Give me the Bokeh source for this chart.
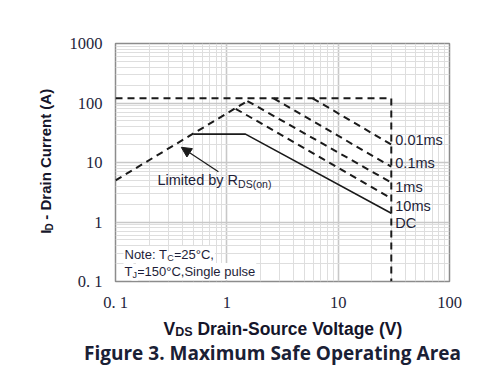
import math
from bokeh.plotting import figure
from bokeh.layouts import row, column
from bokeh.models import FixedTicker, Label, Arrow, NormalHead, Range1d
from bokeh.core.properties import value
from bokeh.embed import file_html
from bokeh.resources import INLINE

# ---------------- data ----------------
x_ticks = [0.1, 1, 10, 100]
x_tick_labels = ["0. 1", "1", "10", "100"]
y_ticks = [0.1, 1, 10, 100, 1000]
y_tick_labels = ["0. 1", "1", "10", "100", "1000"]

# R_DS(on) limit line
rds_v = [0.1, 1.53]
rds_i = [5.0, 108.0]

# package current limit + max V_DS
limit_v = [0.1, 30, 30]
limit_i = [120, 120, 0.1]

# pulse curves (start, end)
pulse_names = ["0.01ms", "0.1ms", "1ms", "10ms"]
pulse_v = [[5.9, 30], [2.63, 30], [1.53, 30], [1.2, 30]]
pulse_i = [[120, 20], [120, 8.5], [108, 4.6], [80, 2.5]]

# DC curve
dc_v = [0.5, 1.47, 30]
dc_i = [30, 30, 1.4]

curve_labels = ["0.01ms", "0.1ms", "1ms", "10ms", "DC"]
curve_label_i = [24, 9.9, 3.9, 1.89, 0.98]

# ---------------- layout geometry ----------------
LEFT_W = 60
MAIN_W, MAIN_H = 432, 314
BOT_H = 53
FL, FB = 115, 282  # page coords of frame left / bottom

p = figure(width=MAIN_W, height=MAIN_H, x_axis_type="log", y_axis_type="log",
           x_range=(0.1, 100), y_range=(0.1, 1000),
           output_backend="svg", toolbar_location=None,
           min_border_left=55, min_border_right=43,
           min_border_top=43, min_border_bottom=32)
p.background_fill_color = "white"
p.border_fill_color = "white"
p.outline_line_color = "#8c8c8c"
p.outline_line_width = 1.5

minor_x = [m * d for d in (0.1, 1, 10) for m in range(2, 10)]
minor_y = [m * d for d in (0.1, 1, 10, 100) for m in range(2, 10)]
p.xaxis.ticker = FixedTicker(ticks=x_ticks, minor_ticks=minor_x)
p.yaxis.ticker = FixedTicker(ticks=y_ticks, minor_ticks=minor_y)
p.xaxis.major_label_overrides = dict(zip(x_ticks, x_tick_labels))
p.yaxis.major_label_overrides = dict(zip(y_ticks, y_tick_labels))

for ax in (p.xaxis, p.yaxis):
    ax.axis_line_color = None
    ax.major_tick_line_color = None
    ax.minor_tick_line_color = None
    ax.major_tick_out = 0
    ax.major_tick_in = 0
    ax.major_label_text_font = "Liberation Serif"
    ax.major_label_text_font_size = "16.5px"
    ax.major_label_text_color = "#1e1e3a"
p.xaxis.major_label_standoff = 7
p.yaxis.major_label_standoff = 9

for g in (p.xgrid, p.ygrid):
    g.grid_line_color = "#c8c8c8"
    g.grid_line_width = 1.6
    g.minor_grid_line_color = "#dedede"
    g.minor_grid_line_width = 1

DASH = "7 5"
INK = "#1a1a1a"
p.line(rds_v, rds_i, line_dash=DASH, line_width=2, color=INK)
p.line(limit_v, limit_i, line_dash=DASH, line_width=2, color=INK)
for vv, ii in zip(pulse_v, pulse_i):
    p.line(vv, ii, line_dash=DASH, line_width=2, color=INK)
p.line(dc_v, dc_i, line_width=1.6, color=INK)

p.text(x=[limit_v[1]] * len(curve_labels), y=curve_label_i, text=curve_labels,
       x_offset=4, text_baseline="middle", text_align="left",
       text_font=value("Liberation Sans"), text_font_size="14.5px",
       text_color="#1e1e38")

# arrow for R_DS(on)
p.add_layout(Arrow(end=NormalHead(size=10, fill_color=INK, line_color=INK),
                   x_start=0.84, y_start=7.0, x_end=0.39, y_end=18.0,
                   line_width=1.2, line_color=INK))


def lab(px, py, text, size, bold=False, font="Liberation Sans", color="#1e1e38",
        angle=0.0, align="left", bg=None):
    """Label inside the frame; px/py are page pixels (frame-relative units)."""
    kw = {}
    if bg:
        kw = dict(background_fill_color=bg, padding=1)
    p.add_layout(Label(x=px - FL, y=FB - py, x_units="screen", y_units="screen",
                       text=text, text_font=font, text_font_size=f"{size}px",
                       text_font_style="bold" if bold else "normal",
                       text_color=color, angle=angle, text_align=align,
                       text_baseline="middle", **kw))


# Limited by R_DS(on)
lab(157, 180, "Limited by R", 14.5)
lab(157 + 5.56 * 14.5, 184, "DS(on)", 10.5)

# note (main pieces first, subscripts last so backgrounds don't hide them)
lab(123, 255, "Note: T", 13, bg="white")
lab(123 + 3.279 * 13 + 0.722 * 9, 255, "=25\u00b0C,", 13, bg="white")
lab(123, 272, "T", 13, bg="white")
lab(123 + 0.611 * 13 + 0.5 * 9, 272, "=150\u00b0C,Single pulse", 13, bg="white")
lab(123 + 3.279 * 13, 258, "C", 9, bg="white")
lab(123 + 0.611 * 13, 275, "J", 9, bg="white")


# ---------------- text panels (axis titles, caption) ----------------
def panel(w, h):
    f = figure(width=w, height=h, x_range=Range1d(0, w), y_range=Range1d(h, 0),
               output_backend="svg", toolbar_location=None,
               x_axis_location=None, y_axis_location=None,
               min_border=0, min_border_left=0, min_border_right=0,
               min_border_top=0, min_border_bottom=0)
    f.grid.visible = False
    f.outline_line_color = None
    f.background_fill_color = "white"
    f.border_fill_color = "white"
    return f


def txt(f, x, y, text, size, bold=True, font="Liberation Sans", color="#15152a",
        angle=0.0, align="left"):
    f.text(x=[x], y=[y], text=[text], angle=angle, text_align=align,
           text_baseline="middle", text_font=value(font),
           text_font_size=f"{size}px",
           text_font_style="bold" if bold else "normal", text_color=color)


left = panel(LEFT_W, MAIN_H)
ys, ysub = 15.0, 10.0
y0 = 251
y1 = y0 - 0.278 * ys
y2 = y1 - 0.722 * ysub - 0.278 * ys - 3
txt(left, 45, y0, "I", ys, angle=math.pi / 2)
txt(left, 48.5, y1, "D", ysub, angle=math.pi / 2)
txt(left, 45, y2, "- Drain Current (A)", ys, angle=math.pi / 2)

bottom = panel(LEFT_W + MAIN_W, BOT_H)
xs, xsub = 17.5, 12.5
by = MAIN_H
x0 = 163
x1 = x0 + 0.667 * xs
x2 = x1 + 1.389 * xsub + 0.278 * xs
txt(bottom, x0, 328 - by, "V", xs)
txt(bottom, x1, 331 - by, "DS", xsub)
txt(bottom, x2, 328 - by, "Drain-Source Voltage (V)", xs)
txt(bottom, 272, 352 - by, "Figure 3. Maximum Safe Operating Area", 19,
    font="Open Sans", color="#1a2035", align="center")

layout = column(row(left, p), bottom)
open("out.html", "w").write(file_html(layout, INLINE))
